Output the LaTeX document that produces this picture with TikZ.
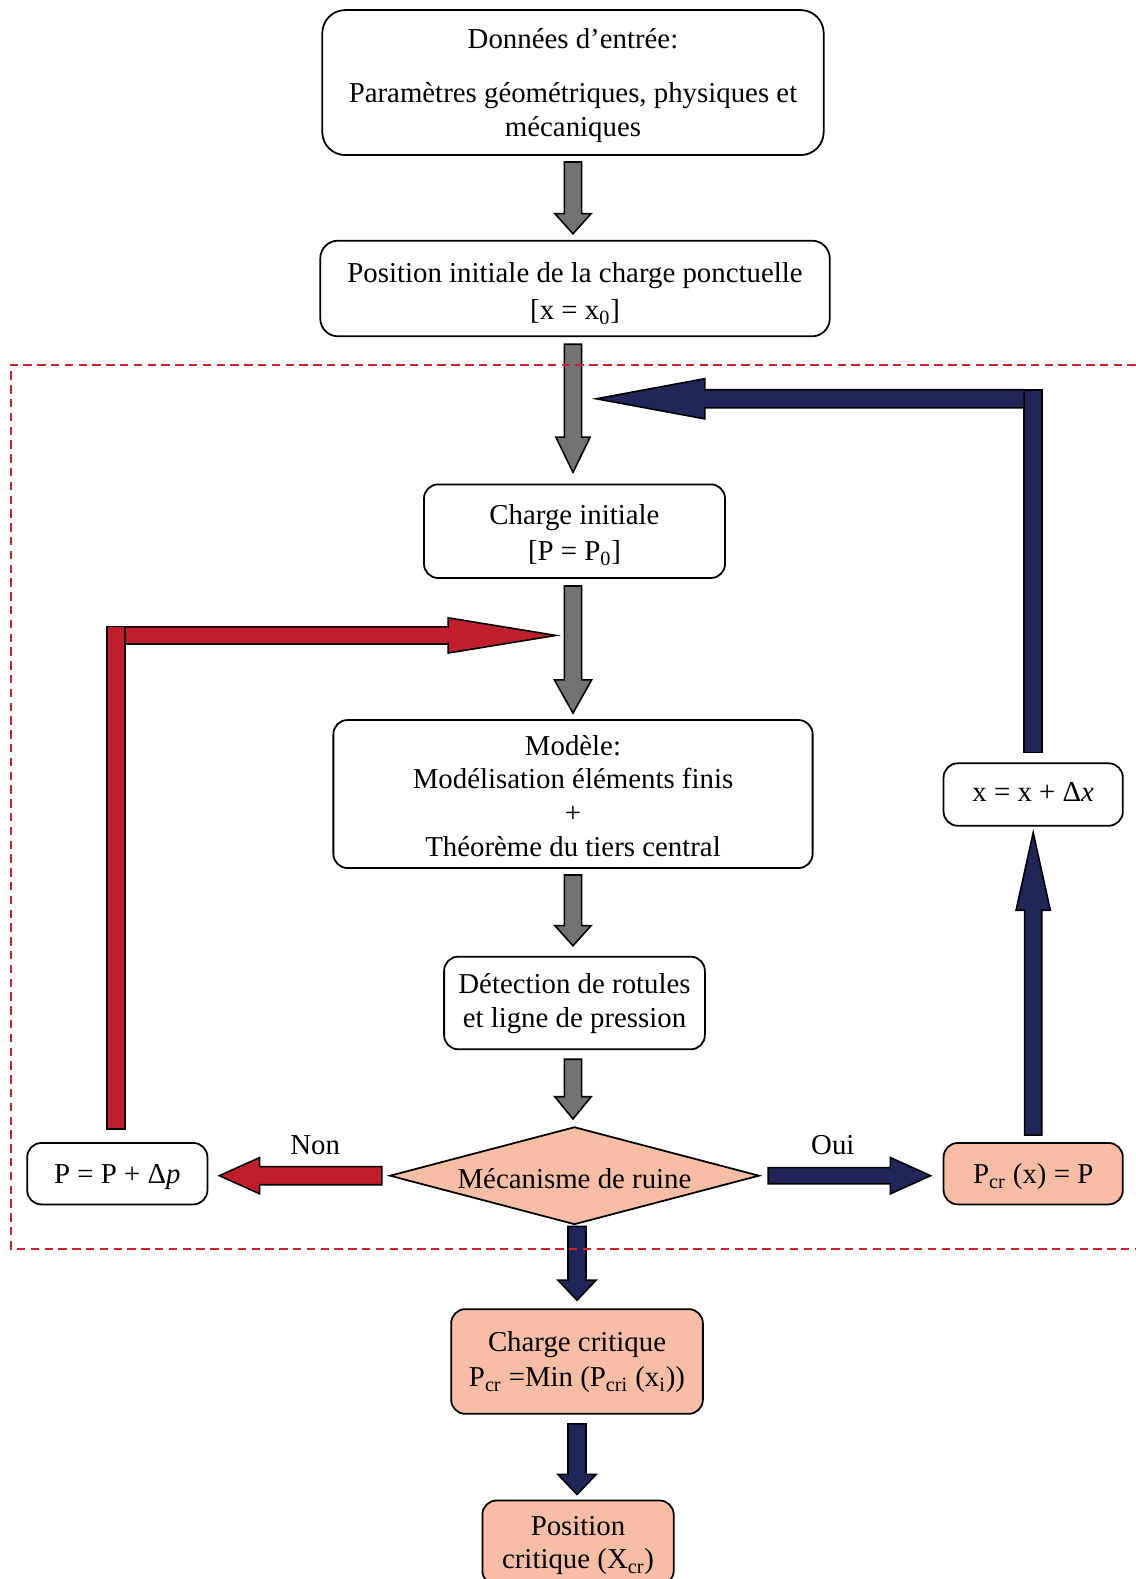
\documentclass[tikz,border=0pt]{standalone}
\usepackage{fontspec}
\setmainfont{Liberation Serif}
\usetikzlibrary{calc,shapes.geometric}

\definecolor{gris}{RGB}{115,115,115}
\definecolor{rouge}{RGB}{192,30,42}
\definecolor{bleu}{RGB}{32,37,90}
\definecolor{saumon}{RGB}{248,190,165}
\definecolor{cadrerouge}{RGB}{205,35,45}

% fleche pleine : couleur, depart, arrivee, demi-largeur du corps, demi-largeur de la tete, longueur de la tete
\newcommand{\fleche}[6]{%
  \draw[bloc, fill=#1] let \p1=#2, \p2=#3,
      \n1={veclen(\x2-\x1,\y2-\y1)},
      \n2={(\x2-\x1)/\n1}, \n3={(\y2-\y1)/\n1} in
    ({\x1-(\n3)*#4},{\y1+(\n2)*#4})
    -- ({\x2-(\n2)*#6-(\n3)*#4},{\y2-(\n3)*#6+(\n2)*#4})
    -- ({\x2-(\n2)*#6-(\n3)*#5},{\y2-(\n3)*#6+(\n2)*#5})
    -- (\p2)
    -- ({\x2-(\n2)*#6+(\n3)*#5},{\y2-(\n3)*#6-(\n2)*#5})
    -- ({\x2-(\n2)*#6+(\n3)*#4},{\y2-(\n3)*#6-(\n2)*#4})
    -- ({\x1+(\n3)*#4},{\y1-(\n2)*#4}) -- cycle;}
% hauteur de la premiere ligne
\newcommand{\haut}[1]{\rule{0pt}{#1}}

\begin{document}
\begin{tikzpicture}[x=0.02cm, y=-0.02cm,
    font=\fontsize{16.3}{19}\selectfont,
    boite/.style={draw, line width=1pt, rounded corners=8pt, align=center, inner sep=0pt, fill=white},
    bloc/.style={draw, line width=0.9pt, line join=miter},
    cadre/.style={draw=cadrerouge, line width=1.1pt, dash pattern=on 4.8pt off 3pt}]
    \useasboundingbox (0,0) rectangle (1128,1568);

    \node[boite, rounded corners=13pt, minimum width=9.96cm, minimum height=2.88cm] (data) at (569,82)
        {\haut{14.5pt}Données d’entrée:\\[11.7pt]Paramètres géométriques, physiques et\\mécaniques};
    \node[boite, rounded corners=10pt, minimum width=10.12cm, minimum height=1.9cm] (posinit) at (571,286.5)
        {\haut{16.8pt}Position initiale de la charge ponctuelle\\[2pt]{[x = x\textsubscript{0}]}};
    \node[boite, minimum width=5.98cm, minimum height=1.86cm] (chargeinit) at (570.5,527.5)
        {\haut{15.7pt}Charge initiale\\[1.5pt]{[P = P\textsubscript{0}]}};
    \node[boite, minimum width=9.52cm, minimum height=2.94cm] (modele) at (569,788.5)
        {\haut{13.4pt}Modèle:\\Modélisation éléments finis\\+\\Théorème du tiers central};
    \node[boite, minimum width=5.18cm, minimum height=1.84cm] (detect) at (570.5,996)
        {\haut{12.2pt}Détection de rotules\\et ligne de pression};
    \node[diamond, draw, line width=1pt, fill=saumon, aspect=3.78, inner sep=0pt,
        text height=14.5pt, text depth=0pt,
        minimum width=7.34cm, minimum height=1.94cm] (ruine) at (570.5,1167.5) {Mécanisme de ruine};
    \node[boite, text height=11.4pt, text depth=0pt, minimum width=3.58cm, minimum height=1.22cm] (dp)
        at (116.5,1165.5) {P = P + Δ\textit{p}};
    \node[boite, fill=saumon, text height=11.4pt, text depth=0pt, minimum width=3.56cm, minimum height=1.22cm] (pcrx)
        at (1026,1165.5) {P\textsubscript{cr} (x) = P};
    \node[boite, text height=10.8pt, text depth=3.4pt, minimum width=3.56cm, minimum height=1.24cm] (dx)
        at (1026,789) {x = x + Δ\textit{x}};
    \node[boite, fill=saumon, minimum width=5cm, minimum height=2.08cm] (chargecrit) at (573,1352)
        {\haut{12.2pt}Charge critique\\[1pt]P\textsubscript{cr} =Min (P\textsubscript{cri} (x\textsubscript{i}))};
    \node[boite, fill=saumon, minimum width=3.8cm, minimum height=1.68cm] (poscrit) at (574,1532)
        {\haut{13.9pt}Position\\critique (X\textsubscript{cr})};
    \node (non) at (313,1137) {Non};
    \node (oui) at (827,1137) {Oui};

    \coordinate (retour) at (592,396);
    \coordinate (boucle) at (552,631);

    \fleche{gris}{($(data.south)+(0,6)$)}{($(data.south |- posinit.north)+(0,-6)$)}{0.17cm}{0.36cm}{0.4cm}
    \fleche{gris}{($(data.south |- posinit.south)+(0,7)$)}{($(data.south |- chargeinit.north)+(0,-11)$)}{0.17cm}{0.34cm}{0.7cm}
    \fleche{gris}{($(data.south |- chargeinit.south)+(0,7)$)}{($(data.south |- modele.north)+(0,-6)$)}{0.17cm}{0.37cm}{0.66cm}
    \fleche{gris}{($(data.south |- modele.south)+(0,6)$)}{($(data.south |- detect.north)+(0,-10)$)}{0.17cm}{0.36cm}{0.4cm}
    \fleche{gris}{($(data.south |- detect.south)+(0,9)$)}{($(data.south |- ruine.north)+(0,-7)$)}{0.17cm}{0.36cm}{0.44cm}

    \fleche{rouge}{($(ruine.west)+(-7,0)$)}{($(ruine.west -| dp.east)+(11,0)$)}{0.18cm}{0.36cm}{0.8cm}
    \fleche{bleu}{($(ruine.east)+(8,0)$)}{($(ruine.east -| pcrx.west)+(-12,0)$)}{0.16cm}{0.36cm}{0.8cm}
    \fleche{bleu}{($(pcrx.north)+(0,-7)$)}{($(dx.south)+(0,6)$)}{0.17cm}{0.34cm}{1.54cm}

    \draw[bloc, fill=bleu] ($(dx.north)+(-9,-10)$) rectangle ($(dx.north |- retour)+(9,-9)$);
    \fleche{bleu}{($(dx.north |- retour)+(-9,0)$)}{(retour)}{0.18cm}{0.4cm}{2.16cm}
    \draw[bloc, fill=rouge] ($(dp.north)+(-10.5,-13)$) rectangle ($(dp.north |- boucle)+(7.5,-9)$);
    \fleche{rouge}{($(dp.north |- boucle)+(7.5,0)$)}{(boucle)}{0.17cm}{0.35cm}{2.14cm}

    \fleche{bleu}{($(ruine.south -| chargecrit.north)+(0,1)$)}{($(chargecrit.north)+(0,-8)$)}{0.18cm}{0.38cm}{0.4cm}
    \fleche{bleu}{($(chargecrit.south)+(0,9)$)}{($(chargecrit.south |- poscrit.north)+(0,-5)$)}{0.18cm}{0.38cm}{0.4cm}

    \draw[cadre] (1128,362) -- (11,362) -- (11,1240) -- (1128,1240);
\end{tikzpicture}
\end{document}
